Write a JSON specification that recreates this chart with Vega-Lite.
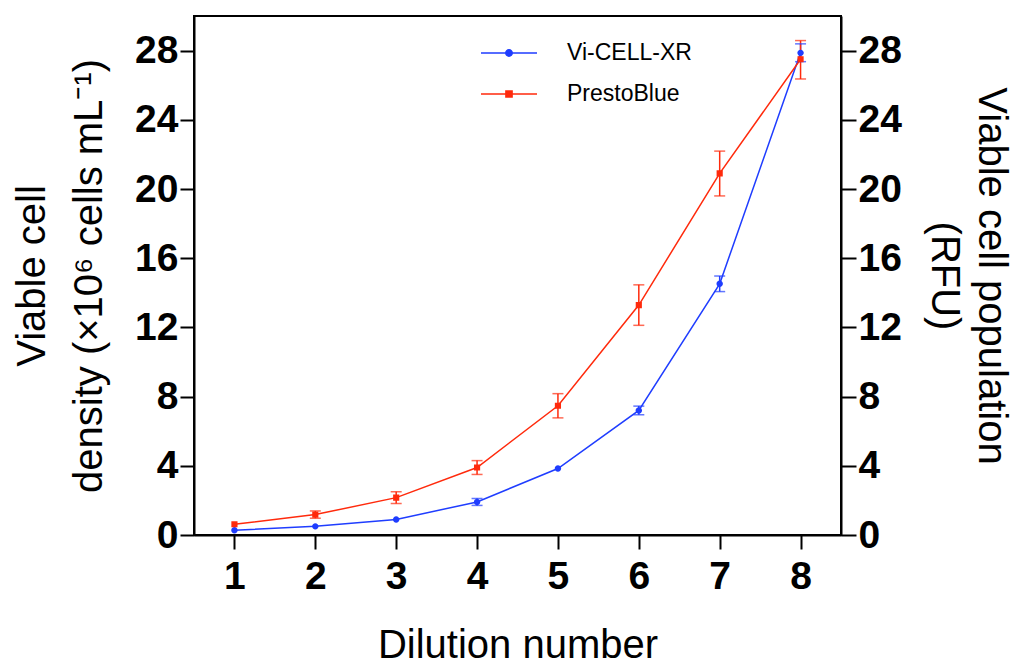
{
  "$schema": "https://vega.github.io/schema/vega-lite/v6.json",
  "width": 647,
  "height": 519,
  "autosize": {"type": "none"},
  "padding": {"left": 194, "top": 16, "right": 177, "bottom": 131},
  "background": "white",
  "config": {
    "view": {"stroke": "black", "strokeWidth": 2},
    "axis": {
      "grid": false,
      "domainColor": "black",
      "domainWidth": 2,
      "tickColor": "black",
      "tickWidth": 2,
      "tickSize": 14,
      "labelFont": "Liberation Sans",
      "labelFontWeight": "bold",
      "labelFontSize": 39,
      "labelColor": "black",
      "titleFont": "Liberation Sans",
      "titleFontWeight": "normal",
      "titleFontSize": 40,
      "titleColor": "black"
    },
    "legend": {
      "orient": "none",
      "legendX": 286,
      "legendY": 8,
      "padding": 0,
      "labelFont": "Liberation Sans",
      "labelFontSize": 23,
      "labelColor": "black",
      "labelOffset": 29,
      "symbolSize": 3136,
      "symbolStrokeWidth": 1.5,
      "symbolOpacity": 1,
      "rowPadding": -11
    }
  },
  "datasets": {
    "pts": [
      {"dilution": 1, "series": "Vi-CELL-XR", "value": 0.27},
      {"dilution": 2, "series": "Vi-CELL-XR", "value": 0.5},
      {"dilution": 3, "series": "Vi-CELL-XR", "value": 0.9},
      {"dilution": 4, "series": "Vi-CELL-XR", "value": 1.91},
      {"dilution": 5, "series": "Vi-CELL-XR", "value": 3.84},
      {"dilution": 6, "series": "Vi-CELL-XR", "value": 7.2},
      {"dilution": 7, "series": "Vi-CELL-XR", "value": 14.52},
      {"dilution": 8, "series": "Vi-CELL-XR", "value": 27.87},
      {"dilution": 1, "series": "PrestoBlue", "value": 0.62},
      {"dilution": 2, "series": "PrestoBlue", "value": 1.18},
      {"dilution": 3, "series": "PrestoBlue", "value": 2.16},
      {"dilution": 4, "series": "PrestoBlue", "value": 3.9},
      {"dilution": 5, "series": "PrestoBlue", "value": 7.47},
      {"dilution": 6, "series": "PrestoBlue", "value": 13.29},
      {"dilution": 7, "series": "PrestoBlue", "value": 20.9},
      {"dilution": 8, "series": "PrestoBlue", "value": 27.5}
    ],
    "err": [
      {"dilution": 4, "series": "Vi-CELL-XR", "lo": 1.71, "hi": 2.11},
      {"dilution": 6, "series": "Vi-CELL-XR", "lo": 6.95, "hi": 7.45},
      {"dilution": 7, "series": "Vi-CELL-XR", "lo": 14.07, "hi": 14.97},
      {"dilution": 8, "series": "Vi-CELL-XR", "lo": 27.36, "hi": 28.39},
      {"dilution": 2, "series": "PrestoBlue", "lo": 0.97, "hi": 1.39},
      {"dilution": 3, "series": "PrestoBlue", "lo": 1.82, "hi": 2.5},
      {"dilution": 4, "series": "PrestoBlue", "lo": 3.5, "hi": 4.3},
      {"dilution": 5, "series": "PrestoBlue", "lo": 6.77, "hi": 8.17},
      {"dilution": 6, "series": "PrestoBlue", "lo": 12.12, "hi": 14.46},
      {"dilution": 7, "series": "PrestoBlue", "lo": 19.6, "hi": 22.19},
      {"dilution": 8, "series": "PrestoBlue", "lo": 26.36, "hi": 28.58}
    ]
  },
  "resolve": {"axis": {"y": "independent"}},
  "layer": [
    {
      "data": {"name": "pts"},
      "mark": {"type": "line", "strokeWidth": 1.5},
      "encoding": {
        "x": {
          "field": "dilution", "type": "quantitative",
          "scale": {"domain": [0.5, 8.5], "nice": false, "zero": false},
          "axis": {
            "values": [1, 2, 3, 4, 5, 6, 7, 8],
            "format": "d",
            "labelPadding": 8,
            "title": "Dilution number",
            "titleX": 323.5,
            "titleY": 122,
            "titleBaseline": "alphabetic",
            "titleAlign": "center"
          }
        },
        "y": {
          "field": "value", "type": "quantitative",
          "scale": {"domain": [0, 30], "nice": false, "zero": true},
          "axis": {
            "orient": "left",
            "values": [0, 4, 8, 12, 16, 20, 24, 28],
            "labelPadding": 2,
            "title": ["Viable cell", "density (×10⁶ cells mL⁻¹)"],
            "titleAngle": -90,
            "titleX": -182,
            "titleY": 259.5,
            "titleAlign": "center",
            "titleBaseline": "top",
            "titleLineHeight": 57
          }
        },
        "color": {
          "field": "series", "type": "nominal",
          "scale": {"domain": ["Vi-CELL-XR", "PrestoBlue"], "range": ["#1f3dff", "#ff2a0c"]}
        }
      }
    },
    {
      "data": {"name": "err"},
      "mark": {"type": "rule", "strokeWidth": 1.5},
      "encoding": {
        "x": {"field": "dilution", "type": "quantitative"},
        "y": {"field": "lo", "type": "quantitative", "axis": null},
        "y2": {"field": "hi"},
        "color": {"field": "series", "type": "nominal"}
      }
    },
    {
      "data": {"name": "err"},
      "mark": {"type": "tick", "orient": "horizontal", "size": 11, "thickness": 1.5},
      "encoding": {
        "x": {"field": "dilution", "type": "quantitative"},
        "y": {"field": "lo", "type": "quantitative", "axis": null},
        "color": {"field": "series", "type": "nominal"}
      }
    },
    {
      "data": {"name": "err"},
      "mark": {"type": "tick", "orient": "horizontal", "size": 11, "thickness": 1.5},
      "encoding": {
        "x": {"field": "dilution", "type": "quantitative"},
        "y": {"field": "hi", "type": "quantitative", "axis": null},
        "color": {"field": "series", "type": "nominal"}
      }
    },
    {
      "data": {"name": "pts"},
      "mark": {"type": "point", "filled": true, "size": 3136, "strokeWidth": 0, "opacity": 1},
      "encoding": {
        "x": {"field": "dilution", "type": "quantitative"},
        "y": {
          "field": "value", "type": "quantitative",
          "axis": {
            "orient": "right",
            "values": [0, 4, 8, 12, 16, 20, 24, 28],
            "labelPadding": 2,
            "tickSize": 15,
            "title": ["Viable cell population", "(RFU)"],
            "titleAngle": 90,
            "titleX": 169,
            "titleY": 259.5,
            "titleAlign": "center",
            "titleBaseline": "top",
            "titleLineHeight": 47
          }
        },
        "color": {
          "field": "series", "type": "nominal",
          "legend": {
            "title": null,
            "encode": {
              "symbols": {
                "update": {
                  "stroke": {"scale": "color", "field": "value"},
                  "fill": {"scale": "color", "field": "value"},
                  "strokeWidth": {"value": 1.5},
                  "opacity": {"value": 1}
                }
              }
            }
          }
        },
        "shape": {
          "field": "series", "type": "nominal",
          "scale": {
            "domain": ["Vi-CELL-XR", "PrestoBlue"],
            "range": [
              "M-1,0H1M-0.115,0A0.115,0.115,0,1,0,0.115,0A0.115,0.115,0,1,0,-0.115,0Z",
              "M-1,0H1M-0.11,-0.11H0.11V0.11H-0.11Z"
            ]
          },
          "legend": {"title": null}
        }
      }
    }
  ]
}
